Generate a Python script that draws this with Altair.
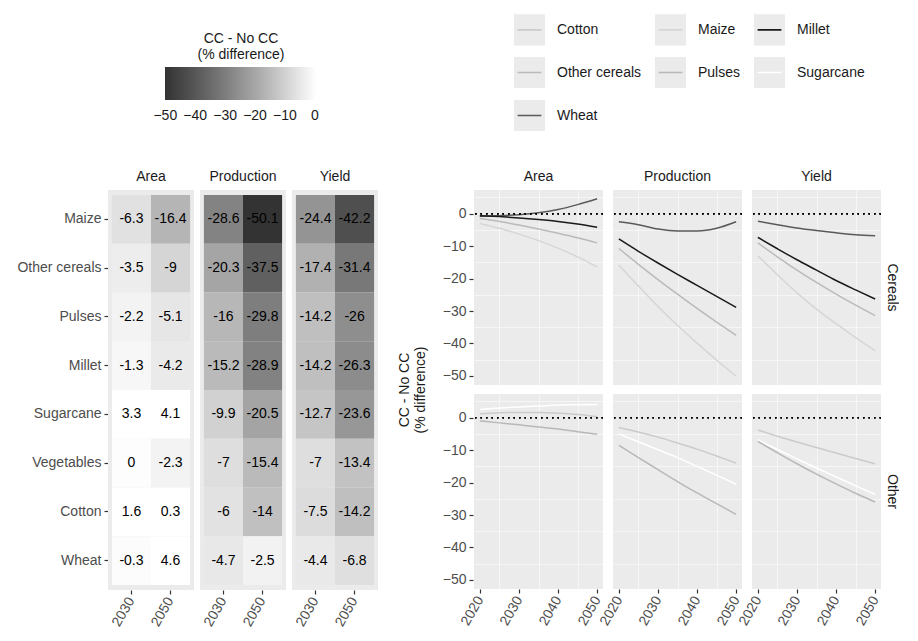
import altair as alt
import pandas as pd

# ---------------- heatmap data ----------------
crops = ["Maize", "Other cereals", "Pulses", "Millet", "Sugarcane", "Vegetables", "Cotton", "Wheat"]
metrics = ["Area", "Production", "Yield"]
heat_years = ["2030", "2050"]
area_2030 = [-6.3, -3.5, -2.2, -1.3, 3.3, 0, 1.6, -0.3]
area_2050 = [-16.4, -9, -5.1, -4.2, 4.1, -2.3, 0.3, 4.6]
prod_2030 = [-28.6, -20.3, -16, -15.2, -9.9, -7, -6, -4.7]
prod_2050 = [-50.1, -37.5, -29.8, -28.9, -20.5, -15.4, -14, -2.5]
yield_2030 = [-24.4, -17.4, -14.2, -14.2, -12.7, -7, -7.5, -4.4]
yield_2050 = [-42.2, -31.4, -26, -26.3, -23.6, -13.4, -14.2, -6.8]
legend_ticks = [-50, -40, -30, -20, -10, 0]

# ---------------- line data ----------------
years = [2020, 2025, 2030, 2035, 2040, 2045, 2050]
x_major = [2020, 2030, 2040, 2050]
x_minor = [2025, 2035, 2045]
y_major = [-50, -40, -30, -20, -10, 0]
y_minor = [-45, -35, -25, -15, -5, 5]
line_crops = ["Cotton", "Maize", "Millet", "Other cereals", "Pulses", "Sugarcane", "Wheat"]
line_colors = ["#cbcbcb", "#d6d6d6", "#1a1a1a", "#bababa", "#b8b8b8", "#ffffff", "#5a5a5a"]

cereals_area = {
    "Wheat": [-0.8, -0.6, -0.3, 0.3, 1.3, 2.8, 4.6],
    "Millet": [-0.6, -0.9, -1.3, -1.8, -2.4, -3.2, -4.2],
    "Other cereals": [-1.5, -2.4, -3.5, -4.7, -6.0, -7.4, -9.0],
    "Maize": [-3.0, -4.5, -6.3, -8.3, -10.6, -13.3, -16.4],
}
cereals_production = {
    "Wheat": [-2.5, -3.4, -4.7, -5.3, -5.3, -4.5, -2.5],
    "Millet": [-7.8, -11.6, -15.2, -18.7, -22.1, -25.5, -28.9],
    "Other cereals": [-10.7, -15.6, -20.3, -24.8, -29.2, -33.4, -37.5],
    "Maize": [-15.8, -22.3, -28.6, -34.4, -39.9, -45.1, -50.1],
}
cereals_yield = {
    "Wheat": [-2.3, -3.4, -4.4, -5.2, -5.9, -6.5, -6.8],
    "Millet": [-7.3, -10.8, -14.2, -17.4, -20.6, -23.5, -26.3],
    "Other cereals": [-9.0, -13.3, -17.4, -21.2, -24.8, -28.2, -31.4],
    "Maize": [-13.0, -18.8, -24.4, -29.4, -33.9, -38.2, -42.2],
}
other_area = {
    "Sugarcane": [2.5, 3.0, 3.3, 3.6, 3.9, 4.0, 4.1],
    "Cotton": [1.2, 1.5, 1.6, 1.6, 1.4, 1.0, 0.3],
    "Pulses": [-1.0, -1.6, -2.2, -2.9, -3.5, -4.3, -5.1],
}
other_production = {
    "Cotton": [-3.0, -4.4, -6.0, -7.8, -9.7, -11.8, -14.0],
    "Sugarcane": [-5.0, -7.4, -9.9, -12.3, -15.0, -17.7, -20.5],
    "Pulses": [-8.5, -12.3, -16.0, -19.7, -23.2, -26.5, -29.8],
}
other_yield = {
    "Cotton": [-3.8, -5.7, -7.5, -9.2, -10.9, -12.6, -14.2],
    "Sugarcane": [-6.8, -9.8, -12.7, -15.5, -18.2, -21.0, -23.6],
    "Pulses": [-7.3, -10.8, -14.2, -17.4, -20.4, -23.3, -26.0],
}

# ---------------- tables ----------------
heat_rows = []
for metric, v30, v50 in [("Area", area_2030, area_2050),
                         ("Production", prod_2030, prod_2050),
                         ("Yield", yield_2030, yield_2050)]:
    for c, a, b in zip(crops, v30, v50):
        heat_rows.append({"metric": metric, "crop": c, "year": heat_years[0], "value": a})
        heat_rows.append({"metric": metric, "crop": c, "year": heat_years[1], "value": b})
heat_df = pd.DataFrame(heat_rows)
heat_df["label"] = heat_df["value"].map(lambda v: f"{v:g}")

line_rows = []
for group, metric, series in [("Cereals", "Area", cereals_area),
                              ("Cereals", "Production", cereals_production),
                              ("Cereals", "Yield", cereals_yield),
                              ("Other", "Area", other_area),
                              ("Other", "Production", other_production),
                              ("Other", "Yield", other_yield)]:
    for crop, vals in series.items():
        for yr, v in zip(years, vals):
            line_rows.append({"group": group, "metric": metric, "crop": crop, "year": yr, "value": v})
line_df = pd.DataFrame(line_rows)

FONT = "Liberation Sans"
AXIS_GREY = "#4d4d4d"
TICK = "#333333"
TXT = "#1a1a1a"

# ---------------- heatmap ----------------
x_heat = alt.X("year:O", title=None,
               scale=alt.Scale(paddingInner=0, paddingOuter=0.1),
               axis=alt.Axis(labelAngle=300, labelAlign="right", labelBaseline="middle",
                             labelFontSize=14, labelColor=AXIS_GREY, tickColor=TICK,
                             tickSize=4, tickWidth=1.2, domain=False, grid=False,
                             bandPosition=0.5, labelPadding=4))
y_heat = alt.Y("crop:N", sort=crops, title=None,
               scale=alt.Scale(paddingInner=0, paddingOuter=0.1),
               axis=alt.Axis(labelFontSize=14, labelColor=AXIS_GREY, tickColor=TICK,
                             tickSize=4, tickWidth=1.2, domain=False, grid=False,
                             bandPosition=0.5, labelPadding=3))
rect = alt.Chart().mark_rect().encode(
    x=x_heat, y=y_heat,
    color=alt.Color("value:Q",
                    scale=alt.Scale(domain=[-50.1, 0.4], range=["#333333", "#ffffff"], clamp=True),
                    legend=alt.Legend(title=["CC - No CC", "(% difference)"], orient="none",
                                      direction="horizontal", gradientLength=151,
                                      gradientThickness=33, values=legend_ticks,
                                      legendX=57, legendY=-158, titleAnchor="middle",
                                      titleAlign="center", titleFontSize=14,
                                      titleFontWeight="normal", titleColor=TXT,
                                      labelFontSize=14, labelColor=TXT, labelOverlap=False,
                                      gradientStrokeWidth=0, titlePadding=5, labelOffset=9))
)
text = alt.Chart().mark_text(fontSize=14, color="black").encode(
    x=x_heat, y=y_heat, text="label:N")
heat = alt.layer(rect, text, data=heat_df).properties(width=86, height=400).facet(
    column=alt.Column("metric:N", sort=metrics, title=None,
                      header=alt.Header(labelFontSize=14, labelColor=TXT, labelPadding=6)),
    spacing=6)

# ---------------- lines ----------------
x_scale = alt.Scale(domain=[2018.5, 2051.5], nice=False, zero=False)
y_scale = alt.Scale(domain=[-52.8, 7.3], nice=False, zero=False)
x_major_axis = alt.Axis(values=x_major, format="d", orient="bottom",
                        labelAngle=300, labelAlign="right", labelBaseline="middle",
                        labelFontSize=14, labelColor=AXIS_GREY, tickColor=TICK,
                        tickSize=4, tickWidth=1.2, domain=False, gridColor="white",
                        gridWidth=1.1, labelOverlap=False, labelPadding=4)
y_major_axis = alt.Axis(values=y_major, orient="left",
                        labelFontSize=14, labelColor=AXIS_GREY, tickColor=TICK,
                        tickSize=4, tickWidth=1.2, domain=False, gridColor="white",
                        gridWidth=1.1, labelOverlap=False, labelPadding=3)
x_minor_axis = alt.Axis(values=x_minor, orient="bottom", labels=False, ticks=False,
                        domain=False, gridColor="white", gridWidth=0.55)
y_minor_axis = alt.Axis(values=y_minor, orient="left", labels=False, ticks=False,
                        domain=False, gridColor="white", gridWidth=0.55)

BOX_PATH = "M-0.76,-0.76H0.76V0.76H-0.76Z"
LINE_PATH = "M-0.76,-0.76h0.001M0.76,0.76h-0.001M-0.58,0H0.58"
legend_common = dict(orient="none", direction="horizontal", columns=3, title=None,
                     labelFontSize=14, labelColor=TXT, symbolSize=1681, rowPadding=2,
                     columnPadding=7, labelOffset=6, legendX=34, legendY=-182,
                     symbolStrokeWidth=1.6)

boxes = alt.Chart().mark_point(filled=True, color="#ebebeb", opacity=1).encode(
    x=alt.X("year:Q", title=None, scale=x_scale, axis=x_minor_axis),
    y=alt.Y("value:Q", title=None, scale=y_scale, axis=y_minor_axis),
    shape=alt.Shape("crop:N",
                    scale=alt.Scale(domain=line_crops, range=[BOX_PATH] * len(line_crops)),
                    legend=alt.Legend(symbolFillColor="#ebebeb", symbolStrokeColor="#ebebeb",
                                      symbolOpacity=1, labelOpacity=0, zindex=0,
                                      **legend_common))
).transform_filter("datum.year < 0")
lines = alt.Chart().mark_line(strokeWidth=1.5, interpolate="monotone").encode(
    x=alt.X("year:Q", title=None, scale=x_scale, axis=x_major_axis),
    y=alt.Y("value:Q", title=None, scale=y_scale, axis=y_major_axis),
    color=alt.Color("crop:N", scale=alt.Scale(range=line_colors),
                    legend=alt.Legend(symbolType=LINE_PATH, zindex=1, **legend_common)))
zero = alt.Chart().mark_rule(color="black", strokeDash=[1.5, 4], strokeWidth=1.5).encode(
    y=alt.YDatum(0, axis=None)).transform_filter("datum.year == 2020")

lines_chart = alt.layer(boxes, lines, zero, data=line_df).resolve_axis(
    x="independent", y="independent").properties(width=129, height=195).facet(
    row=alt.Row("group:N", sort=["Cereals", "Other"], title=["CC - No CC", "(% difference)"],
                header=alt.Header(labelOrient="right", labelAngle=90, labelFontSize=14,
                                  labelColor=TXT, labelPadding=3,
                                  titleOrient="left", titleAngle=270, titleFontSize=14,
                                  titleFontWeight="normal", titleColor=TXT, titlePadding=-10)),
    column=alt.Column("metric:N", sort=metrics, title=None,
                      header=alt.Header(labelFontSize=14, labelColor=TXT, labelPadding=6)),
    spacing={"row": 9, "column": 8})

chart = alt.hconcat(heat, lines_chart, spacing=19).resolve_scale(
    color="independent", shape="independent").configure(
    font=FONT, padding={"left": 8, "top": 0, "right": 0, "bottom": 0}).configure_view(
    fill="#ebebeb", stroke=None)

chart.save("out.html", embed_options={"renderer": "svg", "actions": False})
